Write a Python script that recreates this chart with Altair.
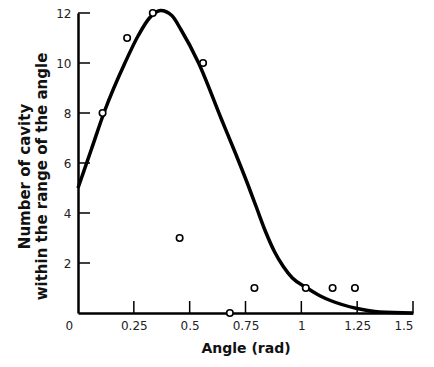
import altair as alt
import pandas as pd

# observed points
obs_x = [0.11, 0.22, 0.335, 0.455, 0.56, 0.68, 0.79, 1.02, 1.14, 1.24]
obs_y = [8, 11, 12, 3, 10, 0, 1, 1, 1, 1]

# fitted curve
fit_x = [0.0, 0.06, 0.12, 0.21, 0.27, 0.32, 0.37, 0.42, 0.46, 0.54, 0.64, 0.70,
         0.76, 0.80, 0.84, 0.88, 0.92, 0.96, 1.02, 1.085, 1.13, 1.25, 1.35, 1.5]
fit_y = [5.0, 6.55, 8.1, 10.0, 11.1, 11.8, 12.1, 11.9, 11.35, 10.0, 7.8, 6.5,
         5.15, 4.2, 3.25, 2.45, 1.85, 1.4, 1.03, 0.68, 0.5, 0.18, 0.04, 0.0]

x_ticks = [0, 0.25, 0.5, 0.75, 1, 1.25, 1.5]
y_ticks = [0, 2, 4, 6, 8, 10, 12]

obs = pd.DataFrame({"x": obs_x, "y": obs_y})
fit = pd.DataFrame({"x": fit_x, "y": fit_y})
xt = pd.DataFrame({"v": x_ticks[1:]})
yt = pd.DataFrame({"v": y_ticks[1:]})

FONT = "DejaVu Sans"
H = 300

xscale = alt.Scale(domain=[0, 1.5], nice=False, zero=False)
yscale = alt.Scale(domain=[0, 12], nice=False, zero=False)

xaxis = alt.Axis(values=x_ticks, tickSize=0, labelPadding=7, grid=False,
                 domainColor="black", domainWidth=2.5,
                 labelFont=FONT, labelFontSize=12, labelColor="#222",
                 labelExpr="format(datum.value, '~g')",
                 labelOffset={"condition": {"test": "datum.value == 0", "value": -13}, "value": 0},
                 title="Angle (rad)", titleFont=FONT, titleFontSize=14,
                 titleFontWeight="bold", titlePadding=10, titleColor="#111")
yaxis = alt.Axis(values=y_ticks[1:], tickSize=0, labelPadding=7, grid=False,
                 domainColor="black", domainWidth=2.5,
                 labelFont=FONT, labelFontSize=12, labelColor="#222",
                 title=["Number of cavity", "within the range of the angle"],
                 titleFont=FONT, titleFontSize=15, titleFontWeight="bold",
                 titlePadding=6, titleColor="#111", titleLineHeight=17,
                 titleY=163)

curve = alt.Chart(fit).mark_line(color="black", strokeWidth=3.5,
                                 interpolate="monotone", clip=False).encode(
    x=alt.X("x:Q", scale=xscale, axis=xaxis),
    y=alt.Y("y:Q", scale=yscale, axis=yaxis),
)

pts = alt.Chart(obs).mark_point(shape="circle", filled=False, color="black",
                                fill="white", fillOpacity=1, strokeWidth=1.6,
                                size=42, opacity=1, clip=False).encode(
    x=alt.X("x:Q", scale=xscale),
    y=alt.Y("y:Q", scale=yscale),
)

xtick = alt.Chart(xt).mark_rule(color="black", strokeWidth=1.5).encode(
    x=alt.X("v:Q", scale=xscale),
    y=alt.value(H),
    y2=alt.value(H - 12),
)
ytick = alt.Chart(yt).mark_rule(color="black", strokeWidth=1.5).encode(
    y=alt.Y("v:Q", scale=yscale),
    x=alt.value(0),
    x2=alt.value(12),
)

chart = alt.layer(xtick, ytick, curve, pts).properties(
    width=335, height=H,
    autosize=alt.AutoSizeParams(type="none"),
    padding={"left": 70, "top": 5, "right": 13, "bottom": 50},
).configure_view(stroke=None, strokeWidth=0)

chart.save("out.html", embed_options={"renderer": "svg", "actions": False})
